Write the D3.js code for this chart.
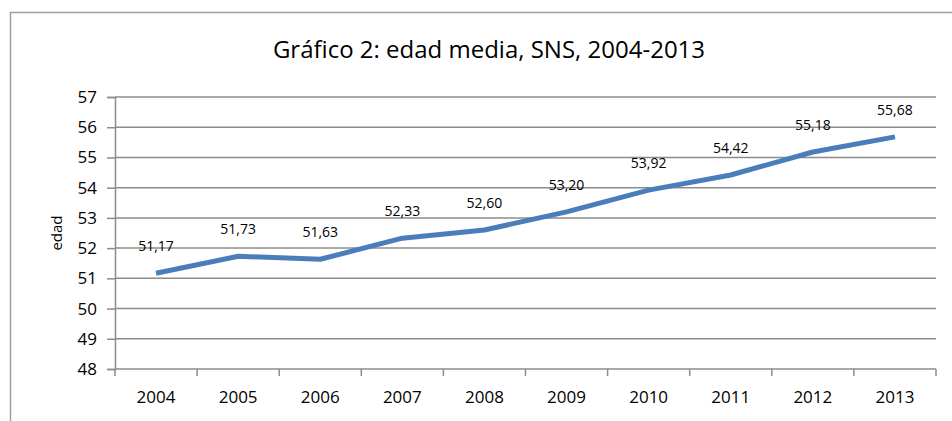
<!DOCTYPE html>
<html>
<head>
<meta charset="utf-8">
<script src="https://cdn.jsdelivr.net/npm/d3@7"></script>
<style>
	body { margin: 0; background: #fff; }
	text { font-family: 'Open Sans', 'Lato', sans-serif; fill: #000; }
</style>
</head>
<body>
<div id="chart"></div>
<script>
// data
var years = ['2004', '2005', '2006', '2007', '2008', '2009', '2010', '2011', '2012', '2013'];
var edadMedia = [51.17, 51.73, 51.63, 52.33, 52.6, 53.2, 53.92, 54.42, 55.18, 55.68];
var yTicks = [48, 49, 50, 51, 52, 53, 54, 55, 56, 57];

var w = 952,
	h = 421;

var margin = { top: 97, right: 16, bottom: 52, left: 115 },
	width = w - margin.left - margin.right,
	height = h - margin.top - margin.bottom;

var svg = d3.select('#chart').append('svg').attr('width', w).attr('height', h);

// outer frame (cut off at right and bottom like the original)
svg
	.append('rect')
	.attr('x', 10.5)
	.attr('y', 12.5)
	.attr('width', 960)
	.attr('height', 420)
	.attr('fill', 'none')
	.attr('stroke', '#a0a0a0')
	.attr('stroke-width', 1.5);

svg
	.append('text')
	.attr('x', 489)
	.attr('y', 58)
	.attr('text-anchor', 'middle')
	.style('font-size', '24px')
	.text('Gráfico 2: edad media, SNS, 2004-2013');

var g = svg.append('g').attr('transform', 'translate(' + margin.left + ',' + margin.top + ')');

var xScale = d3.scaleBand().domain(years).range([ 0, width ]);
var yScale = d3.scaleLinear().domain([ 48, 57 ]).range([ height, 0 ]);

// gridlines
g
	.selectAll('.grid')
	.data(yTicks.slice(1))
	.enter()
	.append('line')
	.attr('class', 'grid')
	.attr('x1', 0)
	.attr('x2', width)
	.attr('y1', function(d) {
		return yScale(d);
	})
	.attr('y2', function(d) {
		return yScale(d);
	})
	.attr('stroke', '#8c8c8c')
	.attr('stroke-width', 1.5);

// y axis
var yAxis = g.append('g').call(d3.axisLeft(yScale).tickValues(yTicks).tickSize(8).tickPadding(10).tickFormat(d3.format('d')));
yAxis.select('.domain').attr('stroke', '#8c8c8c').attr('stroke-width', 1.5);
yAxis.selectAll('.tick line').attr('stroke', '#8c8c8c').attr('stroke-width', 1.5);
yAxis.selectAll('text').style('font-size', '17px').style('font-family', "'Open Sans', sans-serif").attr('fill', '#000');

// x axis: ticks at category boundaries
var xAxisG = g.append('g').attr('transform', 'translate(0,' + height + ')');
xAxisG
	.append('line')
	.attr('x1', 0)
	.attr('x2', width)
	.attr('stroke', '#8c8c8c')
	.attr('stroke-width', 1.5);
var bounds = years.map(function(d) {
	return xScale(d);
});
bounds.push(width);
xAxisG
	.selectAll('.xtick')
	.data(bounds)
	.enter()
	.append('line')
	.attr('class', 'xtick')
	.attr('x1', function(d) {
		return d;
	})
	.attr('x2', function(d) {
		return d;
	})
	.attr('y1', 0)
	.attr('y2', 7)
	.attr('stroke', '#8c8c8c')
	.attr('stroke-width', 1.5);
xAxisG
	.selectAll('.xlabel')
	.data(years)
	.enter()
	.append('text')
	.attr('class', 'xlabel')
	.attr('x', function(d) {
		return xScale(d) + xScale.bandwidth() / 2;
	})
	.attr('y', 34)
	.attr('text-anchor', 'middle')
	.style('font-size', '17px')
	.text(function(d) {
		return d;
	});

// y axis title
svg
	.append('text')
	.attr('transform', 'translate(62,233) rotate(-90)')
	.attr('text-anchor', 'middle')
	.style('font-size', '15px')
	.text('edad');

// line
var line = d3
	.line()
	.x(function(d, i) {
		return xScale(years[i]) + xScale.bandwidth() / 2;
	})
	.y(function(d) {
		return yScale(d);
	});

g
	.append('path')
	.datum(edadMedia)
	.attr('d', line)
	.attr('fill', 'none')
	.attr('stroke', '#4a7ebb')
	.attr('stroke-width', 5)
	.attr('stroke-linejoin', 'round');

// data labels
var fmt = function(v) {
	return v.toFixed(2).replace('.', ',');
};
g
	.selectAll('.dlabel')
	.data(edadMedia)
	.enter()
	.append('text')
	.attr('class', 'dlabel')
	.attr('x', function(d, i) {
		return xScale(years[i]) + xScale.bandwidth() / 2;
	})
	.attr('y', function(d) {
		return yScale(d) - 22;
	})
	.attr('text-anchor', 'middle')
	.style('font-size', '14px')
	.text(fmt);
</script>
</body>
</html>
